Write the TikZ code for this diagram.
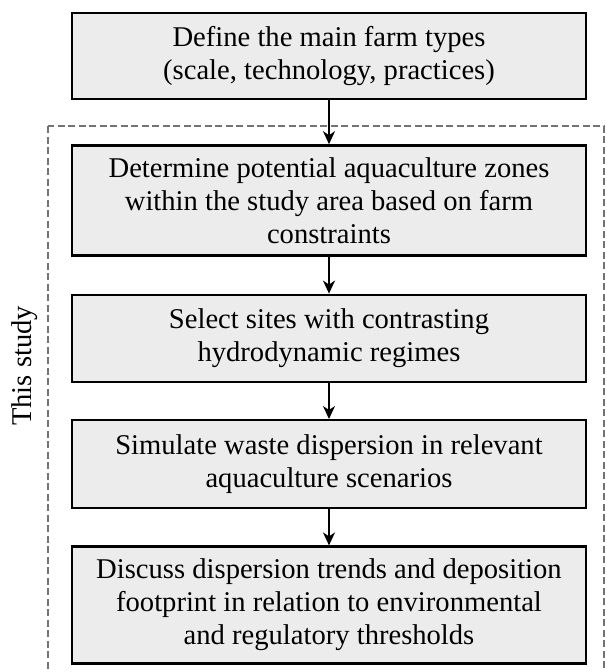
\documentclass[tikz,border=0pt]{standalone}
\usepackage{fontspec}
\setmainfont{Liberation Serif}
\usepackage{tikz}
\usetikzlibrary{arrows.meta,positioning,calc}
\usepackage{xcolor}
\definecolor{boxgray}{RGB}{236,236,236}
\definecolor{framegray}{RGB}{115,115,115}

\begin{document}
\begin{tikzpicture}[
  x=1pt, y=1pt,
  font=\fontsize{28.6}{33}\selectfont,
  box/.style={draw=black, line width=2.4pt, fill=boxgray, align=center, inner xsep=4pt, inner ysep=4pt, minimum width=514pt},
  arr/.style={-{Stealth[length=13pt,width=12pt,inset=4pt]}, line width=1.8pt, black},
  frame/.style={draw=framegray, line width=2pt, dash pattern=on 7pt off 3.5pt}
]
\useasboundingbox (0,0) rectangle (606,-672);
\node[box, minimum height=86pt] (define) at (329,-56) {Define the main farm types\\(scale, technology, practices)};
\node[box, minimum height=110pt, below=44pt of define] (zones) {Determine potential aquaculture zones\\within the study area based on farm\\constraints};
\node[box, minimum height=87pt, below=37pt of zones] (sites) {Select sites with contrasting\\hydrodynamic regimes};
\node[box, minimum height=88pt, below=36pt of sites] (simulate) {Simulate waste dispersion in relevant\\aquaculture scenarios};
\node[box, minimum height=117pt, below=36pt of simulate] (discuss) {Discuss dispersion trends and deposition\\footprint in relation to environmental\\and regulatory thresholds};
\draw[frame] ($(zones.north west)+(-23,18)$) rectangle ($(discuss.south east)+(17,-16)$);
\node[rotate=90] (study) at (25,-366) {This study};
\draw[arr] (define) -- (zones);
\draw[arr] (zones) -- (sites);
\draw[arr] (sites) -- (simulate);
\draw[arr] (simulate) -- (discuss);
\end{tikzpicture}
\end{document}
